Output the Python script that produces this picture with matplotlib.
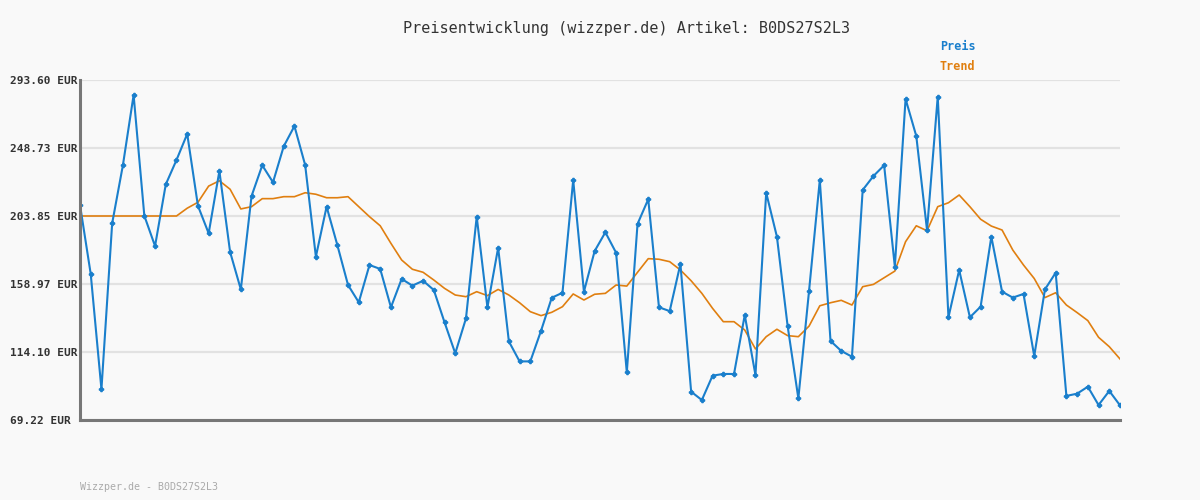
import matplotlib.pyplot as plt
import numpy as np

# price history, one value per sample
preis = [211.1, 165.6, 89.5, 199.0, 237.3, 283.7, 204.0, 184.0, 224.7, 240.8,
         258.0, 210.6, 192.4, 233.5, 180.1, 155.4, 217.0, 237.3, 226.1, 249.8,
         263.2, 237.5, 177.0, 210.0, 184.7, 158.3, 146.9, 171.5, 168.9, 143.6,
         162.3, 157.9, 161.1, 155.0, 133.7, 113.2, 136.3, 203.4, 143.6, 182.9,
         121.1, 107.9, 107.9, 128.1, 149.9, 153.2, 227.6, 153.9, 180.7, 193.1,
         179.6, 100.7, 198.6, 214.9, 143.6, 141.1, 172.2, 87.9, 82.4, 98.5,
         99.6, 99.6, 138.5, 98.9, 219.2, 190.2, 131.2, 83.5, 154.6, 227.6,
         121.4, 114.8, 111.0, 221.0, 230.2, 237.3, 170.4, 281.1, 256.6, 194.6,
         282.6, 137.0, 168.2, 137.0, 144.0, 190.2, 153.9, 150.0, 152.4, 111.4,
         155.4, 166.4, 85.1, 86.6, 91.2, 79.1, 88.4, 78.9]

trend = [203.85, 203.85, 203.85, 203.85, 203.85, 203.85, 203.85, 203.85, 203.85, 203.85,
         209.0, 212.9, 223.6, 227.1, 221.5, 208.5, 210.0, 215.3, 215.3, 216.6,
         216.6, 219.2, 218.2, 215.9, 215.9, 216.6, 210.0, 203.4, 197.4, 185.8,
         174.8, 168.7, 166.7, 161.6, 156.1, 151.7, 150.6, 153.9, 151.3, 155.4,
         151.7, 146.6, 140.7, 138.1, 140.3, 144.0, 152.4, 148.4, 152.2, 152.8,
         158.3, 157.6, 166.7, 175.7, 175.3, 173.7, 168.2, 161.1, 152.8, 142.9,
         134.1, 134.1, 128.6, 116.1, 124.2, 129.1, 124.9, 124.2, 131.2, 144.6,
         146.6, 148.2, 145.1, 157.2, 158.7, 163.1, 167.5, 186.9, 197.4, 194.1,
         210.0, 212.6, 217.7, 210.0, 201.7, 197.2, 194.6, 181.4, 171.5, 162.6,
         150.0, 153.2, 145.1, 140.1, 134.8, 123.8, 117.6, 109.5]

y_ticks = [69.22, 114.10, 158.97, 203.85, 248.73, 293.60]
y_labels = ['69.22 EUR', '114.10 EUR', '158.97 EUR', '203.85 EUR', '248.73 EUR', '293.60 EUR']

bg = '#f9f9f9'
blue = '#1a7fcc'
orange = '#e07f10'
mono = 'DejaVu Sans Mono'

fig = plt.figure(figsize=(12, 5), dpi=100, facecolor=bg)
ax = fig.add_axes([80/1200, 80/500, 1040/1200, 340/500], facecolor=bg)

x = np.arange(len(preis))
ax.plot(x, preis, '-', color=blue, lw=1.5, marker='P', markersize=3, zorder=3)
ax.plot(x, trend, '-', color=orange, lw=1.2, zorder=2)

ax.set_xlim(0, len(preis) - 1)
ax.set_ylim(y_ticks[0], y_ticks[-1])
ax.set_xticks([])
ax.set_yticks(y_ticks, y_labels)
ax.tick_params(axis='y', length=0, pad=50.4, labelsize=8, labelcolor='#333333')
for lab in ax.get_yticklabels():
    lab.set_horizontalalignment('left')
    lab.set_fontfamily(mono)
    lab.set_fontweight('bold')
ax.grid(True, axis='y', color='#e2e2e2', lw=1.6, zorder=0)

for s in ['top', 'right']:
    ax.spines[s].set_visible(False)
for s in ['left', 'bottom']:
    ax.spines[s].set_color('#777777')
    ax.spines[s].set_linewidth(2.2)
    ax.spines[s].set_zorder(4)

fig.text(403/1200, 1 - 28/500, 'Preisentwicklung (wizzper.de) Artikel: B0DS27S2L3',
         family=mono, fontsize=10.9, color='#333333', ha='left', va='center')
fig.text(940/1200, 1 - 47/500, 'Preis', family=mono, fontsize=8.5, fontweight='bold',
         color=blue, ha='left', va='center')
fig.text(940/1200, 1 - 67/500, 'Trend', family=mono, fontsize=8.5, fontweight='bold',
         color=orange, ha='left', va='center')
fig.text(80/1200, 1 - 487/500, 'Wizzper.de - B0DS27S2L3', family=mono, fontsize=7.2,
         color='#aaaaaa', ha='left', va='center')

fig.savefig('out.png', dpi=100, facecolor=bg)
